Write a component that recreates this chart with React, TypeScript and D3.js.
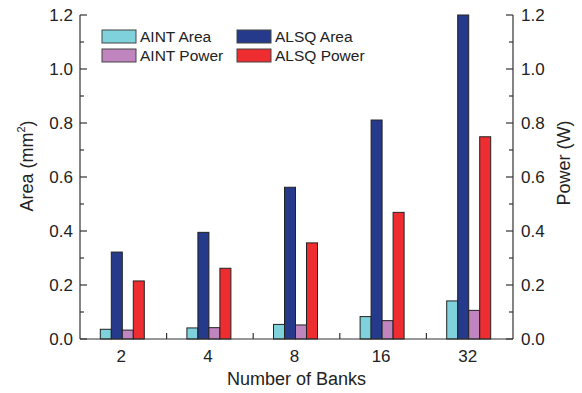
import React from "react";
import * as d3 from "d3";

const banks = ["2", "4", "8", "16", "32"];
const aintArea = [0.036, 0.041, 0.054, 0.083, 0.141];
const alsqArea = [0.322, 0.395, 0.562, 0.811, 1.2];
const aintPower = [0.033, 0.042, 0.052, 0.068, 0.106];
const alsqPower = [0.215, 0.262, 0.356, 0.469, 0.749];
const yTicks = [0, 0.2, 0.4, 0.6, 0.8, 1.0, 1.2];
const minorTicks = [0.1, 0.3, 0.5, 0.7, 0.9, 1.1];

const series = [
  { name: "AINT Area", values: aintArea, color: "#7fd2dc" },
  { name: "ALSQ Area", values: alsqArea, color: "#263a8b" },
  { name: "AINT Power", values: aintPower, color: "#c084be" },
  { name: "ALSQ Power", values: alsqPower, color: "#ee2d31" },
];

const W = 582;
const H = 393;
const left = 80;
const right = 513;
const top = 15;
const bottom = 339;
const axisColor = "#333";
const font = "Liberation Sans, Arial, sans-serif";

export default function App() {
  const x = d3.scaleBand<string>().domain(banks).range([left, right]);
  const y = d3.scaleLinear().domain([0, 1.2]).range([bottom, top]);
  const barW = 11;
  const fmt = d3.format(".1f");

  return (
    <svg
      width={W}
      height={H}
      style={{ position: "absolute", left: 0, top: 0 }}
      fontFamily={font}
    >
      {/* bars */}
      {banks.map((b, i) => {
        const cx = x(b)! + x.bandwidth() / 2 - 1;
        return series.map((s, j) => {
          const x0 = cx - 2 * barW + j * barW;
          return (
            <rect
              key={b + s.name}
              x={x0}
              y={y(s.values[i])}
              width={barW}
              height={bottom - y(s.values[i])}
              fill={s.color}
              stroke="#222"
              strokeWidth={1}
            />
          );
        });
      })}

      {/* left axis */}
      <line x1={left} x2={left} y1={top} y2={bottom} stroke={axisColor} strokeWidth={1.2} />
      {yTicks.map((t) => (
        <g key={"l" + t}>
          <line x1={left} x2={left + 7} y1={y(t)} y2={y(t)} stroke={axisColor} strokeWidth={1.2} />
          <text x={left - 7} y={y(t) + 6} textAnchor="end" fontSize={17} fill="#222">
            {fmt(t)}
          </text>
        </g>
      ))}
      {minorTicks.map((t) => (
        <line key={"lm" + t} x1={left} x2={left + 4} y1={y(t)} y2={y(t)} stroke={axisColor} strokeWidth={1.2} />
      ))}

      {/* right axis */}
      <line x1={right} x2={right} y1={top} y2={bottom} stroke={axisColor} strokeWidth={1.2} />
      {yTicks.map((t) => (
        <g key={"r" + t}>
          <line x1={right} x2={right - 7} y1={y(t)} y2={y(t)} stroke={axisColor} strokeWidth={1.2} />
          <text x={right + 8} y={y(t) + 6} textAnchor="start" fontSize={17} fill="#222">
            {fmt(t)}
          </text>
        </g>
      ))}
      {minorTicks.map((t) => (
        <line key={"rm" + t} x1={right} x2={right - 4} y1={y(t)} y2={y(t)} stroke={axisColor} strokeWidth={1.2} />
      ))}

      {/* bottom axis */}
      <line x1={left} x2={right} y1={bottom} y2={bottom} stroke={axisColor} strokeWidth={1.2} />
      {banks.slice(1).map((b) => (
        <line key={"bt" + b} x1={x(b)!} x2={x(b)!} y1={bottom} y2={bottom - 6} stroke={axisColor} strokeWidth={1.2} />
      ))}
      {banks.map((b) => (
        <text
          key={"bl" + b}
          x={x(b)! + x.bandwidth() / 2 - 2}
          y={362}
          textAnchor="middle"
          fontSize={17}
          fill="#222"
        >
          {b}
        </text>
      ))}

      {/* axis titles */}
      <text x={296.5} y={385} textAnchor="middle" fontSize={18} fill="#222">
        Number of Banks
      </text>
      <text
        transform={`translate(33, 166) rotate(-90)`}
        textAnchor="middle"
        fontSize={18}
        fill="#222"
      >
        Area (mm<tspan dy={-8} fontSize={11}>2</tspan>
        <tspan dy={8}>)</tspan>
      </text>
      <text
        transform={`translate(570, 163) rotate(-90)`}
        textAnchor="middle"
        fontSize={18}
        fill="#222"
      >
        Power (W)
      </text>

      {/* legend */}
      {[
        { s: series[0], lx: 102, ly: 30 },
        { s: series[2], lx: 102, ly: 49 },
        { s: series[1], lx: 237, ly: 30 },
        { s: series[3], lx: 237, ly: 49 },
      ].map(({ s, lx, ly }) => (
        <g key={"lg" + s.name}>
          <rect x={lx} y={ly} width={34} height={13} fill={s.color} stroke="#444" strokeWidth={1} />
          <text x={lx + 38} y={ly + 12} fontSize={15.5} fill="#222">
            {s.name}
          </text>
        </g>
      ))}
    </svg>
  );
}
